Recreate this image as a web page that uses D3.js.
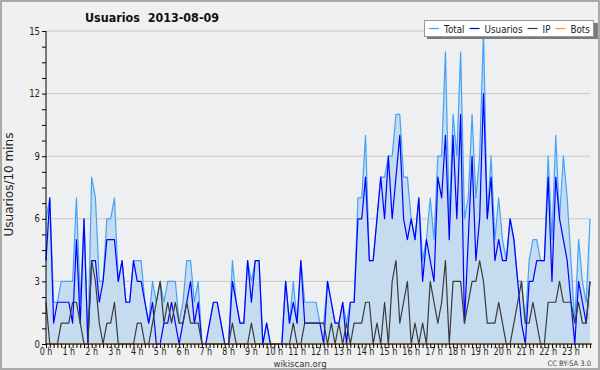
<!DOCTYPE html>
<html>
<head>
<meta charset="utf-8">
<script src="https://cdn.jsdelivr.net/npm/d3@7/dist/d3.min.js"></script>
<style>
  body { margin: 0; background: #f0f0f0; }
  svg { display: block; font-family: "DejaVu Sans", sans-serif; }
</style>
</head>
<body>
<svg id="chart"></svg>
<script>
// 10 minute slots, 2013-08-09 (6 per hour)
var hours = d3.range(0, 24);
var total = [
  6,7,2,2,3,3,  3,3,7,2,6,0,  8,7,3,3,6,6,  7,3,4,2,2,4,
  4,4,2,1,3,2,  3,2,3,3,3,1,  2,4,4,2,3,0,  0,1,2,2,1,0,
  0,4,2,1,1,4,  3,4,4,0,1,0,  0,0,0,3,1,3,  1,4,2,2,2,2,
  1,1,3,2,1,1,  2,1,2,2,7,7,  10,4,4,6,8,8, 9,9,11,11,8,8,
  6,5,7,4,5,7,  5,9,9,14,6,11, 9,14,6,7,11,7, 9,15,6,9,5,7,
  5,4,6,5,3,3,  1,4,5,5,4,4,  9,5,10,6,9,7, 4,1,5,3,2,6
];
var usuarios = [
  4,7,1,2,2,2,  2,1,5,1,6,0,  4,4,2,3,5,5,  5,3,4,2,2,4,
  3,3,2,1,2,0,  0,1,1,2,1,0,  1,2,3,1,2,0,  0,1,2,2,1,0,
  0,3,2,1,1,4,  2,4,4,0,1,0,  0,0,0,3,1,2,  1,4,1,1,1,1,
  1,0,3,2,1,1,  2,0,2,2,6,6,  8,4,4,6,8,6,  9,6,8,10,6,5,
  6,5,7,3,5,4,  3,8,7,10,5,10, 6,11,1,5,9,4, 6,12,6,8,4,5,
  4,4,6,5,3,1,  0,3,3,4,4,4,  8,3,8,6,5,4,  2,0,3,2,1,3
];
var ip = [
  2,0,0,0,1,1,  1,2,2,1,0,0,  4,3,1,0,1,1,  2,0,0,0,0,0,
  1,1,0,0,1,2,  3,1,2,1,2,1,  1,2,1,1,1,0,  0,0,0,0,0,0,
  0,1,0,0,0,0,  1,0,0,0,0,0,  0,0,0,0,0,1,  0,0,1,1,1,1,
  1,1,0,1,0,1,  0,1,0,1,1,1,  2,2,0,1,0,2,  0,3,4,1,2,3,
  0,1,0,1,0,3,  2,1,2,4,0,3,  3,3,1,2,3,3,  4,3,1,1,1,2,
  1,0,0,1,2,3,  1,1,2,1,0,0,  2,2,2,3,2,2,  2,1,2,1,1,3
];
var bots = total.map(function(){ return 0; });
var yTicks = [0, 3, 6, 9, 12, 15];
var seriesNames = ["Total", "Usuarios", "IP", "Bots"];
var seriesColors = ["#44a2f6", "#0000ff", "#3a3a3a", "#ff9900"];

var svgWidth = 600, svgHeight = 370;
var plotLeft = 46, plotRight = 590, plotTop = 31, plotBottom = 344;
var narrow = 0.8; // fake a condensed face

var svg = d3.select("#chart")
  .attr("width", svgWidth)
  .attr("height", svgHeight);

// text squeezed horizontally around its anchor
function label(parent, x, y, str, size, anchor, sx) {
  return parent.append("text")
    .attr("transform", "translate(" + x + "," + y + ") scale(" + (sx || narrow) + ",1)")
    .attr("text-anchor", anchor || "start")
    .attr("font-size", size)
    .attr("fill", "#222")
    .text(str);
}

// frame
svg.append("rect")
  .attr("x", 1).attr("y", 1)
  .attr("width", svgWidth - 2).attr("height", svgHeight - 2)
  .attr("fill", "#f0f0f0")
  .attr("stroke", "#aaaaaa")
  .attr("stroke-width", 2);

svg.append("rect")
  .attr("x", plotLeft).attr("y", plotTop)
  .attr("width", plotRight - plotLeft).attr("height", plotBottom - plotTop)
  .attr("fill", "#edeff1");

var xScale = d3.scaleLinear()
  .domain([0, 24])
  .range([plotLeft, plotLeft + 24 * (plotRight - plotLeft) / (143 / 6)]);

var yScale = d3.scaleLinear()
  .domain([0, 15])
  .range([plotBottom, plotTop]);

// grid
svg.append("g")
  .selectAll("line")
  .data(yTicks.slice(1))
  .enter().append("line")
  .attr("x1", plotLeft).attr("x2", plotRight)
  .attr("y1", function(d){ return yScale(d); })
  .attr("y2", function(d){ return yScale(d); })
  .attr("stroke", "#c8c8c8")
  .attr("stroke-width", 1);

function slotX(d, i) { return xScale(i / 6); }

var area = d3.area()
  .x(slotX)
  .y0(yScale(0))
  .y1(function(d){ return yScale(d); });

svg.append("path")
  .datum(total)
  .attr("d", area)
  .attr("fill", "#c5dcf0");

var line = d3.line()
  .x(slotX)
  .y(function(d){ return yScale(d); });

var allSeries = [total, usuarios, ip, bots];
allSeries.forEach(function(s, k){
  svg.append("path")
    .datum(s)
    .attr("d", line)
    .attr("fill", "none")
    .attr("stroke", seriesColors[k])
    .attr("stroke-width", 1.2)
    .attr("stroke-linejoin", "round");
});

// y axis: minor ticks every 0.75
var yAxis = d3.axisLeft(yScale)
  .tickValues(d3.range(0, 15.01, 0.75))
  .tickSize(4)
  .tickFormat("");
var yg = svg.append("g")
  .attr("transform", "translate(" + plotLeft + ",0)")
  .call(yAxis);
yg.select(".domain").attr("d", "M0," + plotBottom + "V" + plotTop);
yg.selectAll("line").attr("stroke", "#000");

var ylab = svg.append("g");
yTicks.forEach(function(d){
  label(ylab, plotLeft - 6, yScale(d) + 3.5, d, 10, "end", 0.85);
});

// x axis: ticks every 10 minutes
var xAxis = d3.axisBottom(xScale)
  .tickValues(d3.range(0, 145).map(function(i){ return i / 6; }))
  .tickSize(4)
  .tickFormat("");
var xg = svg.append("g")
  .attr("transform", "translate(0," + plotBottom + ")")
  .call(xAxis);
xg.select(".domain").attr("d", "M" + plotLeft + ",0H" + (plotRight + 2));
xg.selectAll("line").attr("stroke", "#000");
xg.selectAll(".tick").filter(function(d){ return xScale(d) > plotRight + 3; }).remove();

var xlab = svg.append("g");
hours.forEach(function(d){
  label(xlab, xScale(d), plotBottom + 10.5, d + " h", 10, "middle");
});

// titles
label(svg, 85, 22, "Usuarios\u00a0\u00a02013-08-09", 13, "start", 0.86)
  .attr("font-weight", "bold")
  .attr("fill", "#111");

svg.append("text")
  .attr("transform", "translate(13," + ((plotTop + plotBottom) / 2 - 3) + ") rotate(-90)")
  .attr("text-anchor", "middle")
  .attr("font-size", 12)
  .attr("fill", "#222")
  .text("Usuarios/10 mins");

label(svg, 300, 366.5, "wikiscan.org", 9.5, "middle", 0.9).attr("fill", "#333");
label(svg, 591, 366, "CC BY-SA 3.0", 7.5, "end", 0.9).attr("fill", "#444");

// legend
var lg = svg.append("g");
var shadow = lg.append("rect").attr("fill", "#7a7a7a");
var box = lg.append("rect").attr("fill", "#ffffff").attr("stroke", "#999").attr("stroke-width", 1);
var lx = 429, ly = 28.5;
seriesNames.forEach(function(name, k){
  lg.append("line")
    .attr("x1", lx).attr("x2", lx + 10)
    .attr("y1", ly).attr("y2", ly)
    .attr("stroke", seriesColors[k])
    .attr("stroke-width", 1.2);
  var t = label(lg, lx + 15, ly + 4, name, 11);
  lx += 15 + t.node().getComputedTextLength() * narrow + 5;
});
box.attr("x", 424.5).attr("y", 20.5).attr("width", lx - 424 - 2).attr("height", 16);
shadow.attr("x", 427).attr("y", 23).attr("width", lx - 424 - 2 + 2).attr("height", 16);
</script>
</body>
</html>
